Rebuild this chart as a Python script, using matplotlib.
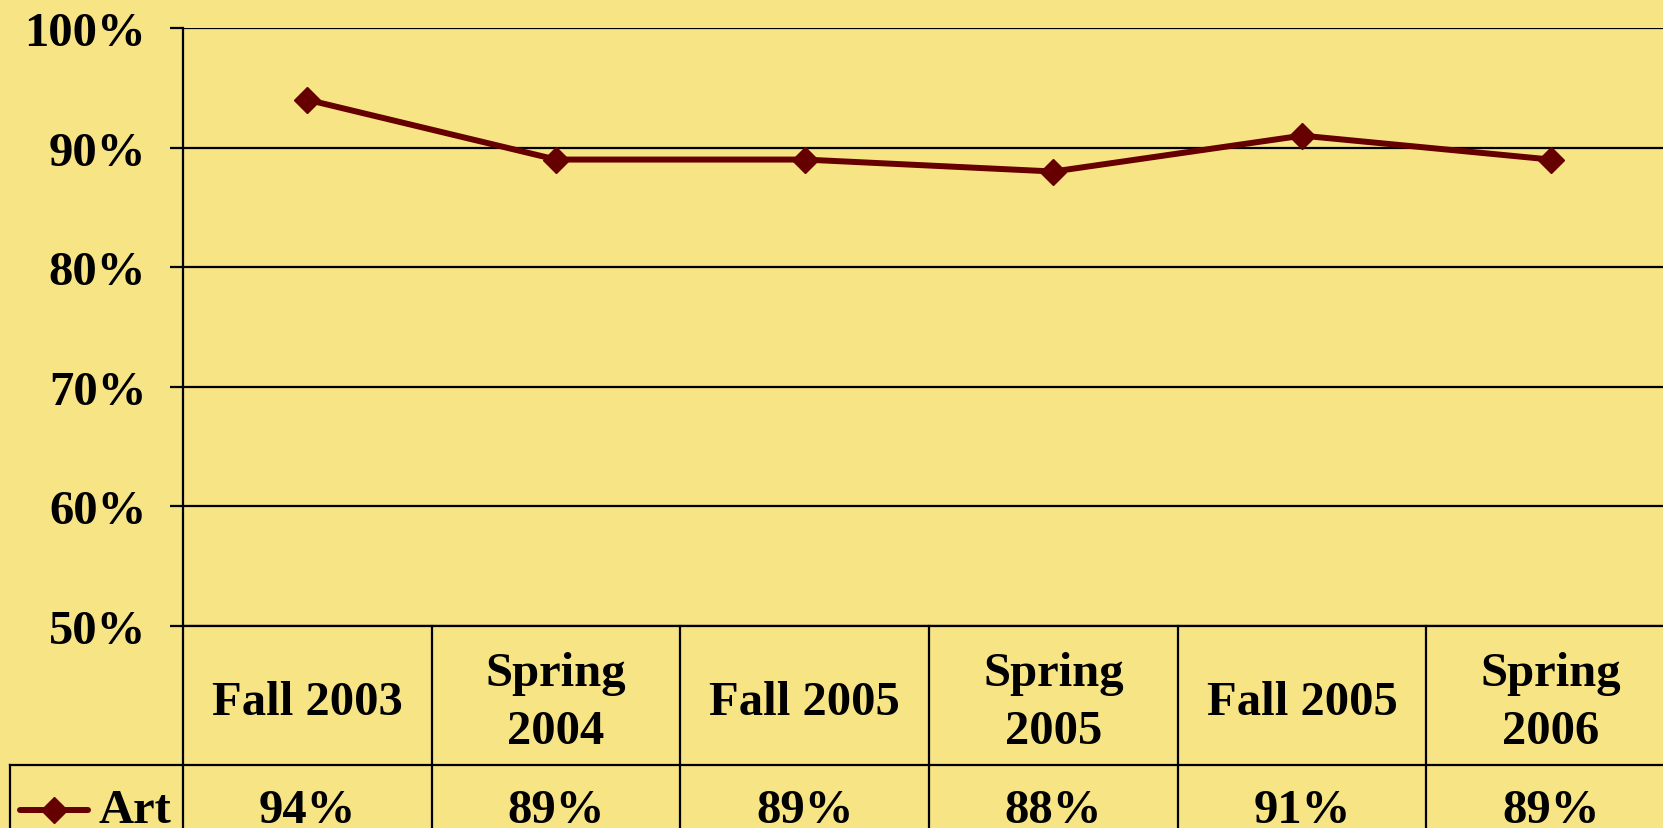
import matplotlib
matplotlib.use("Agg")
import matplotlib.pyplot as plt
import matplotlib.transforms as mtransforms
from matplotlib.lines import Line2D

categories = ["Fall 2003", "Spring\n2004", "Fall 2005", "Spring\n2005", "Fall 2005", "Spring\n2006"]
series_name = "Art"
values = [94, 89, 89, 88, 91, 89]
yticks = [50, 60, 70, 80, 90, 100]

BG = "#F7E484"
LINE = "#660000"
FONT = "Liberation Serif"
FS = 35

plt.rcParams['font.family'] = [FONT, 'DejaVu Serif']

W, H = 1663, 829
fig = plt.figure(figsize=(W / 100, H / 100), dpi=100, facecolor=BG)

left_px, top_px, bottom_px, colw_px = 183, 29, 627, 248.7
ax = fig.add_axes([left_px / W, 1 - bottom_px / H, 6 * colw_px / W, (bottom_px - top_px) / H])
ax.set_facecolor(BG)

n = len(categories)
xs = [i + 0.5 for i in range(n)]
ax.plot(xs, values, color=LINE, lw=4.3, marker='D', ms=13, mfc=LINE, mec=LINE, zorder=3, clip_on=False)

ax.set_xlim(0, n)
ax.set_ylim(50, 100)
ax.set_yticks(yticks)
ax.set_yticklabels([f"{t}%" for t in yticks], fontsize=FS, fontweight='bold', family=FONT)
ax.tick_params(axis='y', length=9.5, width=1.6, pad=17, color='black')
ax.set_xticks([])
ax.yaxis.grid(True, color='black', lw=1.6)
ax.set_axisbelow(True)
for s in ['top', 'right', 'bottom']:
    ax.spines[s].set_visible(False)
ax.spines['left'].set_linewidth(1.6)

trans = mtransforms.blended_transform_factory(ax.transData, ax.transAxes)
lw = 1.6
hdr_bottom = -(766 - 627) / (bottom_px - top_px)
row_bottom = -0.45
leg_left = (10 - left_px) / colw_px

# horizontal lines
ax.add_line(Line2D([0, n], [0, 0], transform=trans, color='black', lw=lw, clip_on=False))
ax.add_line(Line2D([leg_left, n], [hdr_bottom, hdr_bottom], transform=trans, color='black', lw=lw, clip_on=False))
# vertical lines
for i in range(n + 1):
    ax.add_line(Line2D([i, i], [0, row_bottom], transform=trans, color='black', lw=lw, clip_on=False))
ax.add_line(Line2D([leg_left, leg_left], [hdr_bottom, row_bottom], transform=trans, color='black', lw=lw, clip_on=False))

hdr_center = -(703 - 627) / (bottom_px - top_px)
row_center = -(811 - 627) / (bottom_px - top_px)
for x, c, v in zip(xs, categories, values):
    ax.text(x, hdr_center, c, transform=trans, ha='center', va='center', fontsize=FS,
            fontweight='bold', linespacing=1.4, clip_on=False)
    ax.text(x, row_center, f"{v}%", transform=trans, ha='center', va='center', fontsize=FS,
            fontweight='bold', clip_on=False)

# legend key in row header
lx0 = (20 - left_px) / colw_px
lx1 = (88 - left_px) / colw_px
ax.add_line(Line2D([lx0, lx1], [row_center, row_center], transform=trans, color=LINE, lw=4.3,
                   solid_capstyle='round', clip_on=False))
ax.add_line(Line2D([(lx0 + lx1) / 2], [row_center], transform=trans, color=LINE, marker='D', ms=13,
                   mfc=LINE, mec=LINE, clip_on=False))
ax.text((98 - left_px) / colw_px, row_center, series_name, transform=trans, ha='left', va='center',
        fontsize=FS, fontweight='bold', clip_on=False)

fig.savefig("out.png", dpi=100, facecolor=BG)
